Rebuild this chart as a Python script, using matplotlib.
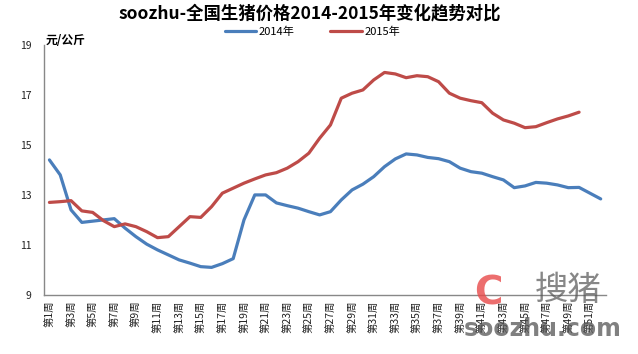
import numpy as np
import matplotlib.pyplot as plt

plt.rcParams['font.family'] = ['Noto Sans CJK SC', 'DejaVu Sans']

weeks = ['第%d周' % i for i in range(1, 53)]
price_2014 = [14.4, 13.8, 12.4, 11.9, 11.95, 12.0, 12.05, 11.67, 11.33, 11.03,
              10.8, 10.6, 10.4, 10.27, 10.13, 10.1, 10.25, 10.45, 12.0, 13.0,
              13.0, 12.68, 12.57, 12.47, 12.33, 12.2, 12.33, 12.8, 13.2, 13.43,
              13.73, 14.13, 14.44, 14.64, 14.6, 14.5, 14.45, 14.33, 14.07, 13.93,
              13.87, 13.73, 13.6, 13.29, 13.36, 13.5, 13.47, 13.4, 13.29, 13.3,
              13.07, 12.84]
price_2015 = [12.7, 12.73, 12.77, 12.36, 12.3, 11.97, 11.73, 11.84, 11.73, 11.53,
              11.29, 11.33, 11.73, 12.13, 12.1, 12.53, 13.07, 13.27, 13.47, 13.64,
              13.8, 13.89, 14.07, 14.33, 14.67, 15.27, 15.8, 16.87, 17.07, 17.2,
              17.6, 17.9, 17.84, 17.69, 17.77, 17.73, 17.53, 17.07, 16.87, 16.77,
              16.69, 16.27, 16.0, 15.87, 15.69, 15.73, 15.89, 16.04, 16.16, 16.31]

fig = plt.figure(figsize=(6.38, 3.54), dpi=100)
ax = fig.add_axes([0.069, 0.167, 0.881, 0.706])

x14 = np.arange(1, len(price_2014) + 1)
x15 = np.arange(1, len(price_2015) + 1)
ax.plot(x14, price_2014, color='#4A7EBB', lw=2.3, label='2014年', solid_capstyle='round')
ax.plot(x15, price_2015, color='#BE4B48', lw=2.3, label='2015年', solid_capstyle='round')

ax.set_xlim(0.5, 52.5)
ax.set_ylim(9, 19)
ax.set_yticks([9, 11, 13, 15, 17, 19])
ax.set_xticks(x14[::2])
ax.set_xticklabels(weeks[::2], rotation=90, fontsize=7.5)
ax.tick_params(axis='both', length=0, labelsize=7.5, colors='#222222')
ax.tick_params(axis='y', pad=9)
ax.tick_params(axis='x', pad=4)
for s in ['top', 'right']:
    ax.spines[s].set_visible(False)
for s in ['left', 'bottom']:
    ax.spines[s].set_color('#888888')
    ax.spines[s].set_linewidth(1)

fig.text(0.486, 0.962, 'soozhu-全国生猪价格2014-2015年变化趋势对比', ha='center', va='center',
         fontsize=12.5, fontweight='bold')
fig.text(0.072, 0.885, '元/公斤', ha='left', va='center', fontsize=8.5, fontweight='bold')
fig.legend(loc='center', bbox_to_anchor=(0.49, 0.91), ncol=2, frameon=False,
           fontsize=8, handlelength=2.8, columnspacing=3.2, handletextpad=0.3,
           borderaxespad=0, borderpad=0)

# watermark
fig.text(0.85, 0.07, 'soozhu.com', ha='center', va='center', fontsize=17, fontweight='bold',
         color='#555555', alpha=0.75, family=['DejaVu Sans'])
fig.text(0.89, 0.18, '搜猪', ha='center', va='center', fontsize=24, color='#555555', alpha=0.7)
fig.text(0.765, 0.17, 'C', ha='center', va='center', fontsize=28, fontweight='bold',
         color='#E84A4A', alpha=0.8, family=['DejaVu Sans'])

fig.savefig('out.png', dpi=100)
